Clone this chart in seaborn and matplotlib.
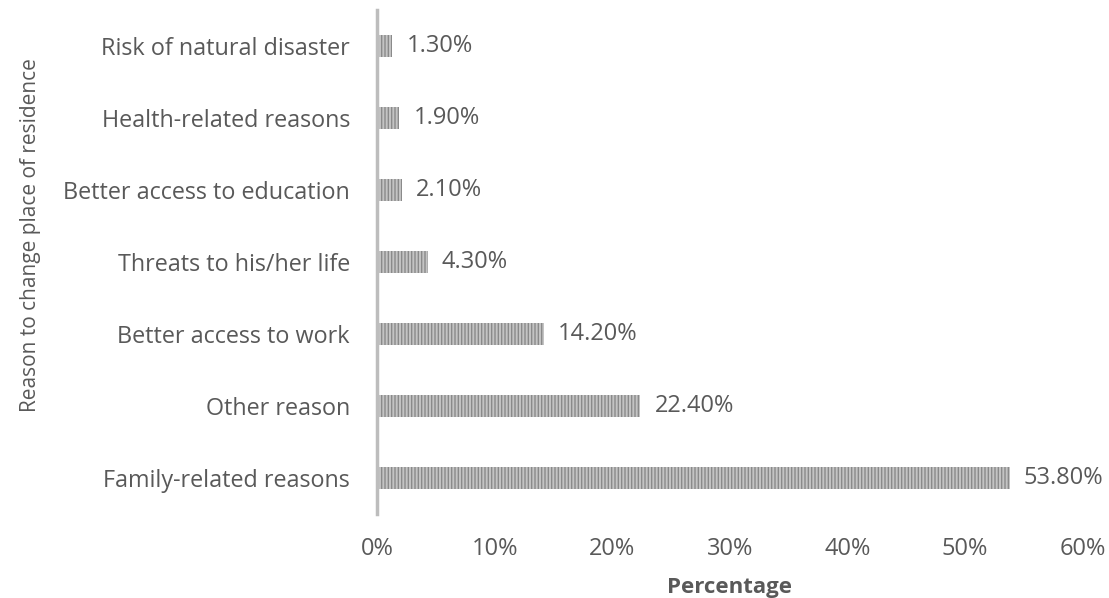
import matplotlib
matplotlib.use("Agg")
import matplotlib.pyplot as plt
import seaborn as sns
import pandas as pd
from matplotlib.ticker import FuncFormatter

reasons = [
    "Risk of natural disaster",
    "Health-related reasons",
    "Better access to education",
    "Threats to his/her life",
    "Better access to work",
    "Other reason",
    "Family-related reasons",
]
percentages = [1.3, 1.9, 2.1, 4.3, 14.2, 22.4, 53.8]
x_ticks = [0, 10, 20, 30, 40, 50, 60]

df = pd.DataFrame({"reason": reasons, "pct": percentages})

sns.set_theme(style="white")
plt.rcParams["font.family"] = ["Open Sans", "DejaVu Sans"]
plt.rcParams["hatch.linewidth"] = 1.0

text_color = "#595959"

fig = plt.figure(figsize=(11.09, 5.98), dpi=100)
ax = fig.add_axes([0.340, 0.140, 0.636, 0.843])

sns.barplot(data=df, x="pct", y="reason", order=reasons, orient="h",
            color="#c4c4c4", width=0.30, ax=ax, saturation=1)

for bar in ax.patches:
    bar.set_hatch("|||||")
    bar.set_edgecolor("#8a8a8a")
    bar.set_linewidth(0)

for i, v in enumerate(percentages):
    ax.text(v + 1.2, i, f"{v:.2f}%", va="center", ha="left",
            fontsize=17, color=text_color)

ax.set_xlim(0, 60)
ax.set_ylim(len(reasons) - 0.5, -0.5)
ax.set_xticks(x_ticks)
ax.xaxis.set_major_formatter(FuncFormatter(lambda v, _: f"{v:.0f}%"))
ax.tick_params(axis="x", length=0, pad=16, labelsize=17, labelcolor=text_color)
ax.tick_params(axis="y", length=0, pad=19.5, labelsize=16.8, labelcolor=text_color)

ax.set_xlabel("Percentage", fontsize=16, fontweight="bold", color=text_color)
ax.set_ylabel("Reason to change place of residence", fontsize=15, color=text_color)
ax.xaxis.set_label_coords(0.5, -0.125)
ax.yaxis.set_label_coords(-0.477, 0.553)

for side in ["top", "right", "bottom"]:
    ax.spines[side].set_visible(False)
ax.spines["left"].set_color("#bdbdbd")
ax.spines["left"].set_linewidth(2.5)

fig.savefig("out.png", dpi=100, facecolor="white")
